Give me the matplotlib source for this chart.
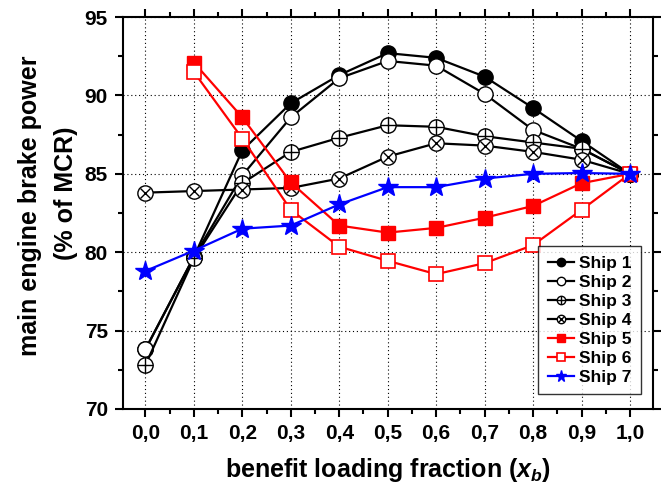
import numpy as np
import matplotlib
matplotlib.use('Agg')
from matplotlib import pyplot as plt
from matplotlib.ticker import MultipleLocator, FuncFormatter
from matplotlib.legend_handler import HandlerTuple

plt.rcParams['font.family'] = ['Liberation Sans', 'DejaVu Sans']
plt.rcParams['font.weight'] = 'bold'
plt.rcParams['mathtext.fontset'] = 'custom'
plt.rcParams['mathtext.it'] = 'Liberation Sans:bold:italic'
plt.rcParams['mathtext.rm'] = 'Liberation Sans:bold'

# fraction of benefit loading
xb = [0.0, 0.1, 0.2, 0.3, 0.4, 0.5, 0.6, 0.7, 0.8, 0.9, 1.0]
xb_late = [0.1, 0.2, 0.3, 0.4, 0.5, 0.6, 0.7, 0.8, 0.9, 1.0]

# main engine brake power, % of MCR
ship1 = [73.8, 79.7, 86.5, 89.5, 91.3, 92.7, 92.4, 91.2, 89.2, 87.1, 85.0]
ship2 = [73.8, 79.7, 84.9, 88.6, 91.1, 92.2, 91.9, 90.1, 87.8, 86.6, 85.0]
ship3 = [72.8, 79.6, 84.4, 86.4, 87.3, 88.1, 88.0, 87.4, 87.0, 86.6, 85.0]
ship4 = [83.8, 83.9, 84.0, 84.1, 84.7, 86.1, 86.95, 86.8, 86.4, 85.9, 85.0]
ship5 = [92.1, 88.6, 84.45, 81.7, 81.25, 81.55, 82.2, 82.95, 84.4, 85.0]
ship6 = [91.5, 87.25, 82.7, 80.35, 79.45, 78.6, 79.3, 80.45, 82.7, 85.0]
ship7 = [78.8, 80.1, 81.5, 81.7, 83.05, 84.15, 84.15, 84.7, 85.0, 85.05, 85.0]

fig = plt.figure(figsize=(6.62, 4.88), dpi=100)
ax = fig.add_axes([0.186, 0.162, 0.800, 0.803])

lw = 1.6
handles = []

h1, = ax.plot(xb, ship1, '-o', color='black', lw=lw, ms=11, mfc='black', mec='black')
handles.append(h1)

h2, = ax.plot(xb, ship2, '-o', color='black', lw=lw, ms=11, mfc='white', mec='black', mew=1.0)
handles.append(h2)

h3, = ax.plot(xb, ship3, '-o', color='black', lw=lw, ms=11, mfc='white', mec='black', mew=1.0)
h3p, = ax.plot(xb, ship3, ls='none', marker='+', ms=11, mec='black', mew=1.0)
handles.append((h3, h3p))

h4, = ax.plot(xb, ship4, '-o', color='black', lw=lw, ms=11, mfc='white', mec='black', mew=1.0)
h4x, = ax.plot(xb, ship4, ls='none', marker='x', ms=7.8, mec='black', mew=1.0)
handles.append((h4, h4x))

h5, = ax.plot(xb_late, ship5, '-s', color='red', lw=lw, ms=10, mfc='red', mec='red')
handles.append(h5)

h6, = ax.plot(xb_late, ship6, '-s', color='red', lw=lw, ms=10, mfc='white', mec='red', mew=1.2)
handles.append(h6)

h7, = ax.plot(xb, ship7, '-*', color='blue', lw=lw, ms=15, mfc='blue', mec='blue')
handles.append(h7)

ax.set_xlim(-0.046, 1.047)
ax.set_ylim(70, 95)
ax.xaxis.set_major_locator(MultipleLocator(0.1))
ax.xaxis.set_minor_locator(MultipleLocator(0.05))
ax.yaxis.set_major_locator(MultipleLocator(5))
ax.yaxis.set_minor_locator(MultipleLocator(2.5))
ax.xaxis.set_major_formatter(FuncFormatter(lambda v, p: ('%.1f' % v).replace('.', ',')))
ax.yaxis.set_major_formatter(FuncFormatter(lambda v, p: '%d' % v))

ax.tick_params(which='both', direction='out', top=True, right=True,
               labeltop=False, labelright=False, width=1.5)
ax.tick_params(which='major', length=6, labelsize=15, pad=5)
ax.tick_params(which='minor', length=3.5)
for lab in ax.get_xticklabels() + ax.get_yticklabels():
    lab.set_fontweight('bold')
for sp in ax.spines.values():
    sp.set_linewidth(1.5)

ax.grid(True, which='major', ls=(0, (1, 2.5)), color='black', lw=0.8)

ax.set_xlabel(r'benefit loading fraction ($x_b$)', fontsize=18, fontweight='bold', labelpad=9)

# two-line y title, each line placed on its own
fig.text(30 / 662, 1 - 206 / 488, 'main engine brake power', rotation=90,
         ha='center', va='center', fontsize=18, fontweight='bold')
fig.text(66 / 662, 1 - 193 / 488, '(% of MCR)', rotation=90,
         ha='center', va='center', fontsize=18, fontweight='bold')

labels = ['Ship 1', 'Ship 2', 'Ship 3', 'Ship 4', 'Ship 5', 'Ship 6', 'Ship 7']
leg = ax.legend(handles, labels, loc='lower right', bbox_to_anchor=(0.978, 0.037),
                fontsize=12.5, handlelength=1.5, handletextpad=0.3, labelspacing=0.22,
                markerscale=0.55, frameon=True, fancybox=False, edgecolor='black',
                borderpad=0.55, borderaxespad=0.0,
                handler_map={tuple: HandlerTuple(ndivide=1)})
leg.get_frame().set_linewidth(1.0)
for t in leg.get_texts():
    t.set_fontweight('bold')

fig.savefig('out.png', dpi=100)
